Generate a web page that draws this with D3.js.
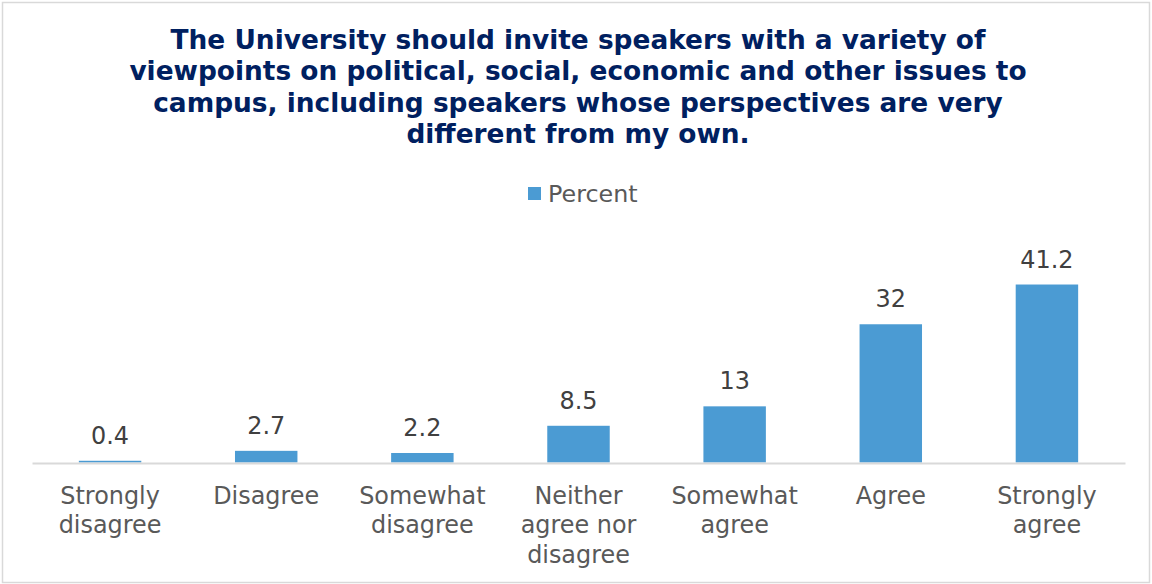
<!DOCTYPE html>
<html>
<head>
<meta charset="utf-8">
<script src="https://cdn.jsdelivr.net/npm/d3@7/dist/d3.min.js"></script>
<style>
  html, body { margin: 0; padding: 0; background: #ffffff; }
  svg { display: block; }
</style>
</head>
<body>
<div id="chart"></div>
<script>
// Survey responses: share of respondents (percent) per agreement level
const categories = [
  "Strongly disagree",
  "Disagree",
  "Somewhat disagree",
  "Neither agree nor disagree",
  "Somewhat agree",
  "Agree",
  "Strongly agree"
];
// Wrapped axis label lines for each category
const categoryLines = [
  ["Strongly", "disagree"],
  ["Disagree"],
  ["Somewhat", "disagree"],
  ["Neither", "agree nor", "disagree"],
  ["Somewhat", "agree"],
  ["Agree"],
  ["Strongly", "agree"]
];
const percentValues = [0.4, 2.7, 2.2, 8.5, 13, 32, 41.2];
const seriesName = "Percent";
const titleLines = [
  "The University should invite speakers with a variety of",
  "viewpoints on political, social, economic and other issues to",
  "campus, including speakers whose perspectives are very",
  "different from my own."
];

const W = 1152, H = 584;
const FONT = "Verdana, 'DejaVu Sans', sans-serif";
const BAR = "#4b9bd3";

const svg = d3.select("#chart").append("svg")
  .attr("width", W).attr("height", H);

// Chart frame
svg.append("rect")
  .attr("x", 2.5).attr("y", 2.5)
  .attr("width", W - 5).attr("height", H - 4)
  .attr("fill", "#ffffff")
  .attr("stroke", "#d9d9d9").attr("stroke-width", 1.5);

// Title
const title = svg.append("text")
  .attr("text-anchor", "middle")
  .attr("font-family", FONT)
  .attr("font-weight", "bold")
  .attr("font-size", 26.4)
  .attr("fill", "#002060");
titleLines.forEach((t, i) => {
  title.append("tspan")
    .attr("x", 578)
    .attr("y", 49 + i * 31.3)
    .text(t);
});

// Legend
const legend = svg.append("g");
legend.append("rect")
  .attr("x", 528).attr("y", 187)
  .attr("width", 13).attr("height", 13)
  .attr("fill", BAR);
legend.append("text")
  .attr("x", 548).attr("y", 201.5)
  .attr("font-family", FONT)
  .attr("font-size", 23.8)
  .attr("fill", "#595959")
  .text(seriesName);

// Scales
const x = d3.scaleBand()
  .domain(categories)
  .range([32, 1125])
  .paddingInner(0.6)
  .paddingOuter(0.3);

const y = d3.scaleLinear()
  .domain([0, 45])
  .range([462.5, 268.1]);

// Bars
svg.append("g").selectAll("rect")
  .data(percentValues)
  .join("rect")
  .attr("x", (d, i) => x(categories[i]))
  .attr("width", x.bandwidth())
  .attr("y", d => y(d))
  .attr("height", d => y(0) - y(d))
  .attr("fill", BAR);

// Category axis line
const axis = svg.append("g")
  .attr("transform", `translate(0,${y(0) + 0.5})`)
  .call(d3.axisBottom(x).tickSize(0).tickFormat(""));
axis.select(".domain")
  .attr("stroke", "#d9d9d9")
  .attr("stroke-width", 2);

// Category labels (wrapped)
const catLabels = svg.append("g").selectAll("text")
  .data(categories)
  .join("text")
  .attr("text-anchor", "middle")
  .attr("font-family", FONT)
  .attr("font-size", 23.9)
  .attr("fill", "#595959");
catLabels.each(function (c, i) {
  const sel = d3.select(this);
  categoryLines[i].forEach((line, k) => {
    sel.append("tspan")
      .attr("x", x(c) + x.bandwidth() / 2)
      .attr("y", 504 + k * 29.3)
      .text(line);
  });
});

// Value labels
svg.append("g").selectAll("text")
  .data(percentValues)
  .join("text")
  .attr("x", (d, i) => x(categories[i]) + x.bandwidth() / 2)
  .attr("y", d => y(d) - 17)
  .attr("text-anchor", "middle")
  .attr("font-family", FONT)
  .attr("font-size", 23.9)
  .attr("fill", "#404040")
  .text(d => d);
</script>
</body>
</html>
